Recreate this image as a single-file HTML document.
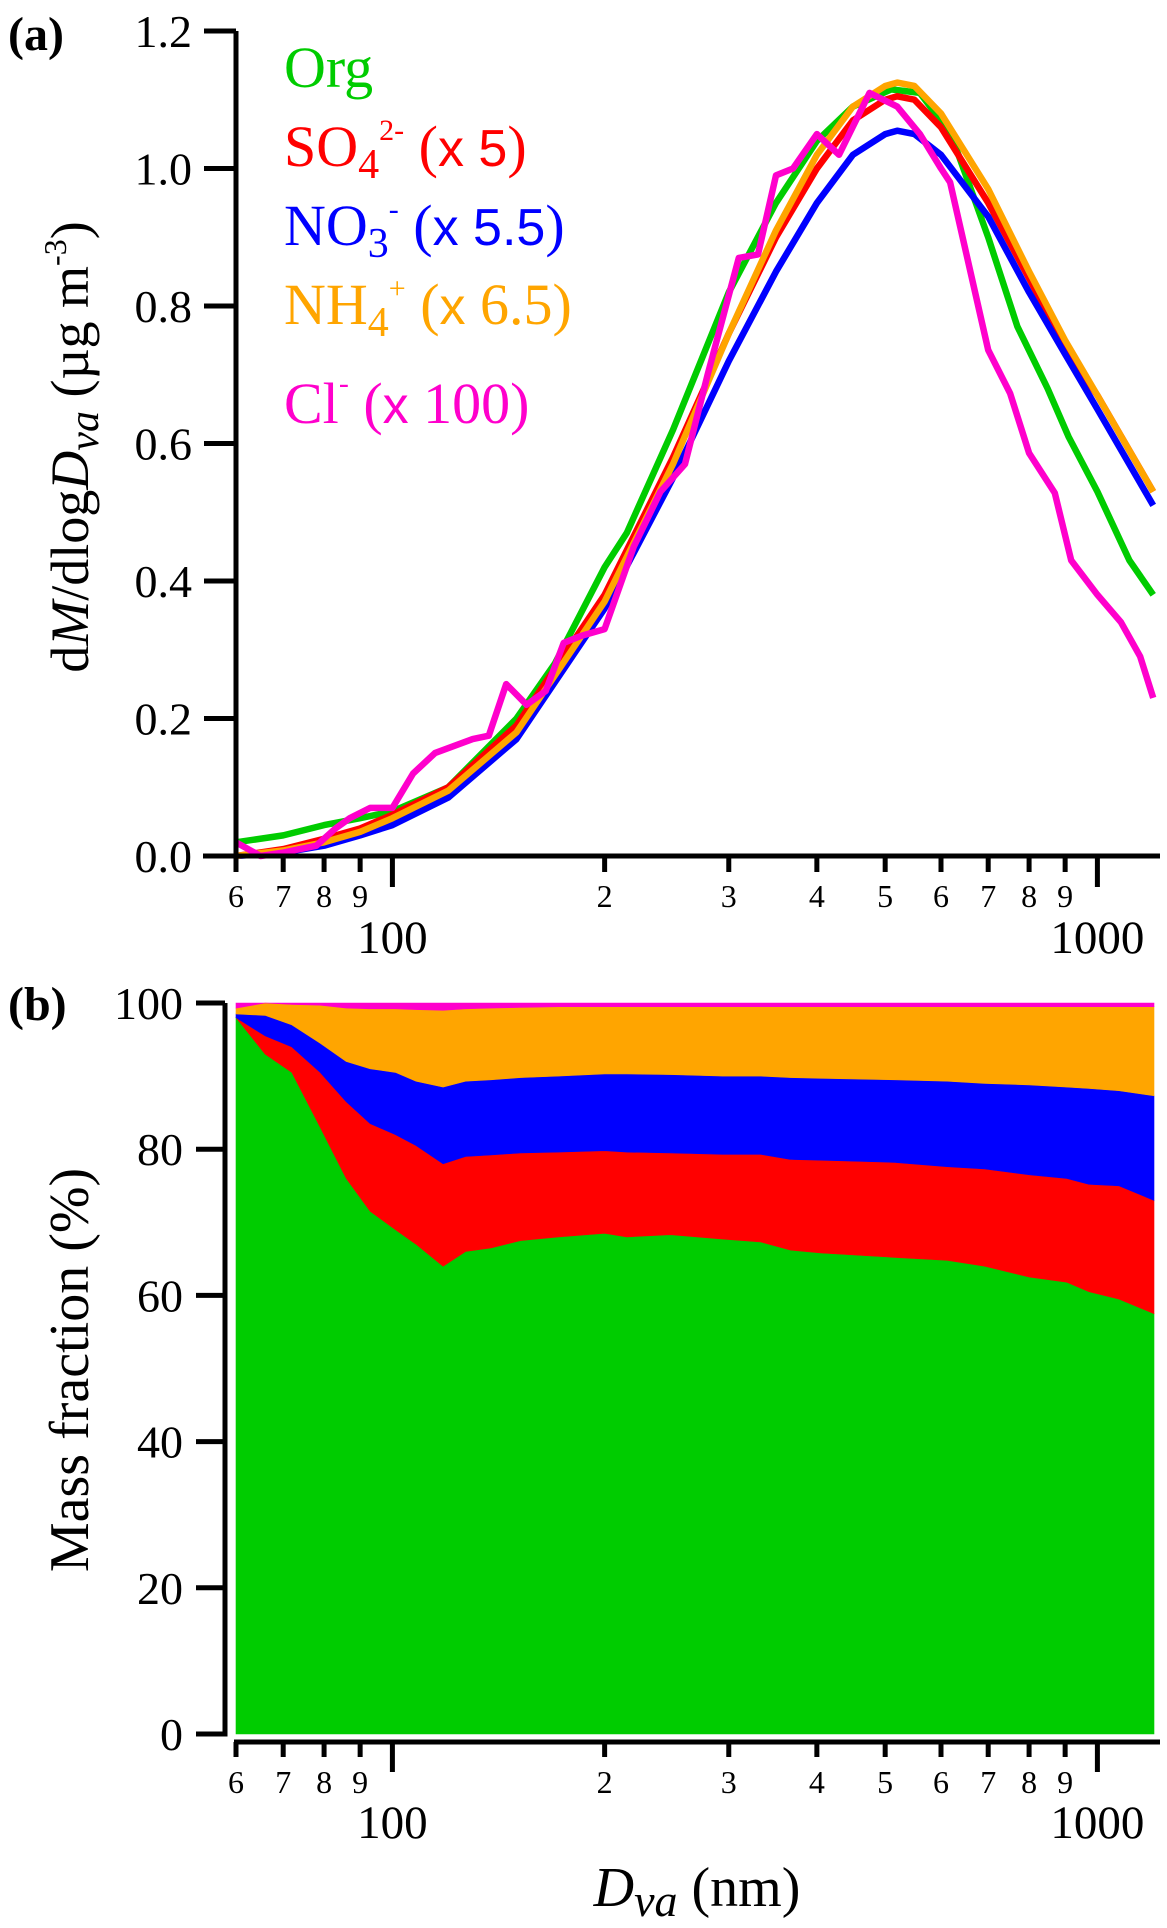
<!DOCTYPE html>
<html><head><meta charset="utf-8"><style>
html,body{margin:0;padding:0;background:#fff;}
svg{display:block;font-family:"Liberation Serif","Times New Roman",serif;}
text{font-family:"Liberation Serif","Times New Roman",serif;}
.sans{font-family:"Liberation Sans",Arial,sans-serif;}
</style></head><body>
<svg id="fig" width="1167" height="1928" viewBox="0 0 1167 1928" xmlns="http://www.w3.org/2000/svg" font-family="Liberation Serif, serif">
<g id="pa"></g>
<g id="pb"></g>
<text x="8" y="50" font-size="48" font-weight="bold">(a)</text>
<text x="8" y="1020" font-size="48" font-weight="bold">(b)</text>
<text transform="translate(88,447) rotate(-90)" text-anchor="middle" font-size="54">d<tspan font-style="italic">M</tspan>/dlog<tspan font-style="italic">D</tspan><tspan font-style="italic" font-size="42" dy="10">va</tspan><tspan dy="-10"> (µg m</tspan><tspan font-size="32" dy="-22">-3</tspan><tspan dy="22">)</tspan></text>
<text transform="translate(88,1370) rotate(-90)" text-anchor="middle" font-size="56">Mass fraction (%)</text>
<text x="697" y="1906" text-anchor="middle" font-size="56"><tspan font-style="italic">D</tspan><tspan font-style="italic" font-size="46" dy="10">va</tspan><tspan dy="-10"> (nm)</tspan></text>
<g>
<text x="284" y="87" font-size="58" fill="#00cc00">Org</text>
<text x="284" y="166" font-size="58" fill="#ff0000">SO<tspan font-size="42" dy="12">4</tspan><tspan font-size="30" dy="-38">2-</tspan><tspan dy="26"> (</tspan><tspan class="sans" font-size="52">x 5</tspan>)</text>
<text x="284" y="245" font-size="58" fill="#0000ff">NO<tspan font-size="42" dy="12">3</tspan><tspan font-size="30" dy="-38">-</tspan><tspan dy="26"> (</tspan><tspan class="sans" font-size="52">x 5.5</tspan>)</text>
<text x="284" y="324" font-size="58" fill="#ffa500">NH<tspan font-size="42" dy="12">4</tspan><tspan font-size="30" dy="-38">+</tspan><tspan dy="26"> (</tspan><tspan class="sans" font-size="52">x</tspan> 6.5)</text>
<text x="284" y="423" font-size="58" fill="#ff00cc">Cl<tspan font-size="30" dy="-30">-</tspan><tspan dy="30"> (</tspan><tspan class="sans" font-size="52">x</tspan> 100)</text>
</g>
</svg>
<script>
// Panel (a) data: size distributions
const orgX=[60,70,80,90,100,120,150,170,200,215,250,300,350,400,450,510,560,620,700,770,850,910,1000,1110,1200];
const orgY=[0.02,0.03,0.045,0.055,0.065,0.10,0.20,0.28,0.42,0.47,0.62,0.82,0.95,1.04,1.09,1.115,1.11,1.05,0.90,0.77,0.68,0.61,0.53,0.43,0.38];
const ionX=[60,70,80,90,100,120,150,200,250,300,350,400,450,500,520,550,600,700,800,900,1000,1200];
const so4Y=[0.0,0.01,0.025,0.04,0.06,0.10,0.19,0.38,0.58,0.76,0.90,1.00,1.07,1.10,1.105,1.10,1.06,0.95,0.84,0.74,0.67,0.53];
const no3Y=[0.0,0.005,0.015,0.03,0.045,0.085,0.17,0.36,0.55,0.72,0.85,0.95,1.02,1.05,1.055,1.05,1.02,0.93,0.82,0.73,0.65,0.51];
const nh4Y=[0.0,0.008,0.02,0.035,0.055,0.095,0.18,0.37,0.57,0.76,0.91,1.02,1.09,1.12,1.125,1.12,1.08,0.97,0.85,0.75,0.67,0.53];
const clX=[60,65,70,78,83,87,93,100,107,115,130,137,145,155,165,175,185,200,220,240,260,280,310,330,350,370,400,430,475,520,560,600,618,700,752,800,870,918,1000,1080,1150,1200];
const clY=[0.02,0.0,0.005,0.015,0.04,0.055,0.07,0.07,0.12,0.15,0.17,0.175,0.25,0.22,0.24,0.31,0.32,0.33,0.45,0.53,0.57,0.70,0.87,0.875,0.99,1.0,1.05,1.02,1.11,1.09,1.05,1.0,0.98,0.736,0.673,0.586,0.528,0.43,0.38,0.34,0.29,0.23];
const yTicksA=[0,0.2,0.4,0.6,0.8,1.0,1.2];
const yTickLabelsA=["0.0","0.2","0.4","0.6","0.8","1.0","1.2"];
// Panel (b) data: mass fractions (%)
const fracX=[60,66,72,79,86,93,101,108,118,127,138,152,172,200,215,248,294,333,367,405,516,612,692,801,905,973,1073,1203];
const orgF=[98,93,90.5,83,76,71.5,69,67,64,66,66.5,67.5,68,68.5,68,68.3,67.7,67.3,66.2,65.8,65.2,64.8,64,62.5,61.8,60.5,59.5,57.5];
const so4F=[0,2.5,3.5,7.5,10.5,12,13,13.5,14,13,12.7,12,11.6,11.3,11.6,11.2,11.6,12,12.4,12.7,13,12.8,13.3,14,14.2,14.7,15.5,15.5];
const no3F=[0.5,2.8,3,4,5.5,7.5,8.5,8.8,10.5,10.3,10.3,10.3,10.4,10.5,10.7,10.7,10.7,10.7,11.2,11.2,11.3,11.7,11.7,12.3,12.5,13.1,13,14.3];
const nh4F=[0.8,1.7,2.8,5.2,7.3,8.2,8.7,9.8,10.5,9.9,9.8,9.6,9.5,9.2,9.2,9.3,9.5,9.5,9.7,9.8,10,10.2,10.5,10.7,11,11.2,11.5,12.2];
const clF=[0.7,0,0.2,0.3,0.7,0.8,0.8,0.9,1,0.8,0.7,0.6,0.5,0.5,0.5,0.5,0.5,0.5,0.5,0.5,0.5,0.5,0.5,0.5,0.5,0.5,0.5,0.5];
const yTicksB=[0,20,40,60,80,100];
const xMinor=[60,70,80,90,200,300,400,500,600,700,800,900];
const xMinorLabels=["6","7","8","9","2","3","4","5","6","7","8","9"];
const xMajor=[100,1000];
const xMajorLabels=["100","1000"];

const NS="http://www.w3.org/2000/svg";
const X0=236, DEC=705;
function sx(v){return X0+(Math.log10(v)-Math.log10(60))*DEC;}
function ya(v){return 856-v*(856-31)/1.2;}
function yb(v){return 1734-v*(1734-1003)/100;}
function el(tag,attrs,parent){const e=document.createElementNS(NS,tag);for(const k in attrs)e.setAttribute(k,attrs[k]);parent.appendChild(e);return e;}
const pa=document.getElementById('pa'), pb=document.getElementById('pb');
const XR=1160;

// Panel a series
const series=[[orgX,orgY,'#00cc00','org-line'],[ionX,so4Y,'#ff0000','so4-line'],[ionX,no3Y,'#0000ff','no3-line'],[ionX,nh4Y,'#ffa500','nh4-line'],[clX,clY,'#ff00cc','cl-line']];
series.forEach(s=>{
  const d=s[0].map((x,i)=>(i?'L':'M')+sx(x).toFixed(1)+','+ya(s[1][i]).toFixed(1)).join('');
  const p=el('path',{d:d,fill:'none',stroke:s[2],'stroke-width':6.5,'stroke-linejoin':'round'},pa);
  
  
});
// Panel a axes
let ax=el('line',{x1:236,y1:31,x2:236,y2:858,stroke:'#000','stroke-width':5},pa);


ax=el('line',{x1:203,y1:856,x2:XR,y2:856,stroke:'#000','stroke-width':5},pa);


yTicksA.forEach((v,i)=>{
  el('line',{x1:204,y1:ya(v),x2:236,y2:ya(v),stroke:'#000','stroke-width':5},pa);
  const t=el('text',{x:192,y:ya(v)+16,'text-anchor':'end','font-size':46},pa);
  t.textContent=yTickLabelsA[i];
  
  
});
function xAxisTicks(parent,axisY,minorEnd,majorEnd,digitBase,majorBase){
  xMinor.forEach((v,i)=>{
    el('line',{x1:sx(v),y1:axisY,x2:sx(v),y2:minorEnd,stroke:'#000','stroke-width':5},parent);
    const t=el('text',{x:sx(v),y:digitBase,'text-anchor':'middle','font-size':32},parent);
    t.textContent=xMinorLabels[i];
    
    
  });
  xMajor.forEach((v,i)=>{
    el('line',{x1:sx(v),y1:axisY,x2:sx(v),y2:majorEnd,stroke:'#000','stroke-width':5},parent);
    const t=el('text',{x:sx(v),y:majorBase,'text-anchor':'middle','font-size':47},parent);
    t.textContent=xMajorLabels[i];
    
    
  });
}
xAxisTicks(pa,856,872,887,907,953);

// Panel b stacked areas
const stack=[[orgF,'#00cc00','org-area'],[so4F,'#ff0000','so4-area'],[no3F,'#0000ff','no3-area'],[nh4F,'#ffa500','nh4-area'],[clF,'#ff00cc','cl-area']];
let base=fracX.map(()=>0);
stack.forEach(s=>{
  const top=base.map((b,i)=>b+s[0][i]);
  let d=fracX.map((x,i)=>(i?'L':'M')+sx(x).toFixed(1)+','+yb(Math.min(top[i],100)).toFixed(1)).join('');
  for(let i=fracX.length-1;i>=0;i--) d+='L'+sx(fracX[i]).toFixed(1)+','+yb(base[i]).toFixed(1);
  const p=el('path',{d:d+'Z',fill:s[1],stroke:s[1],'stroke-width':0.6},pb);
  
  
  base=top;
});
ax=el('path',{d:'M225,1003 L225,1734 L196,1734',fill:'none',stroke:'#000','stroke-width':5},pb);


ax=el('line',{x1:234,y1:1742,x2:XR,y2:1742,stroke:'#000','stroke-width':5},pb);


yTicksB.forEach(v=>{
  el('line',{x1:196,y1:yb(v),x2:225,y2:yb(v),stroke:'#000','stroke-width':5},pb);
  const t=el('text',{x:183,y:yb(v)+16,'text-anchor':'end','font-size':46},pb);
  t.textContent=String(v);
  
  
});
xAxisTicks(pb,1742,1757,1772,1793,1838);
</script>
</body></html>
